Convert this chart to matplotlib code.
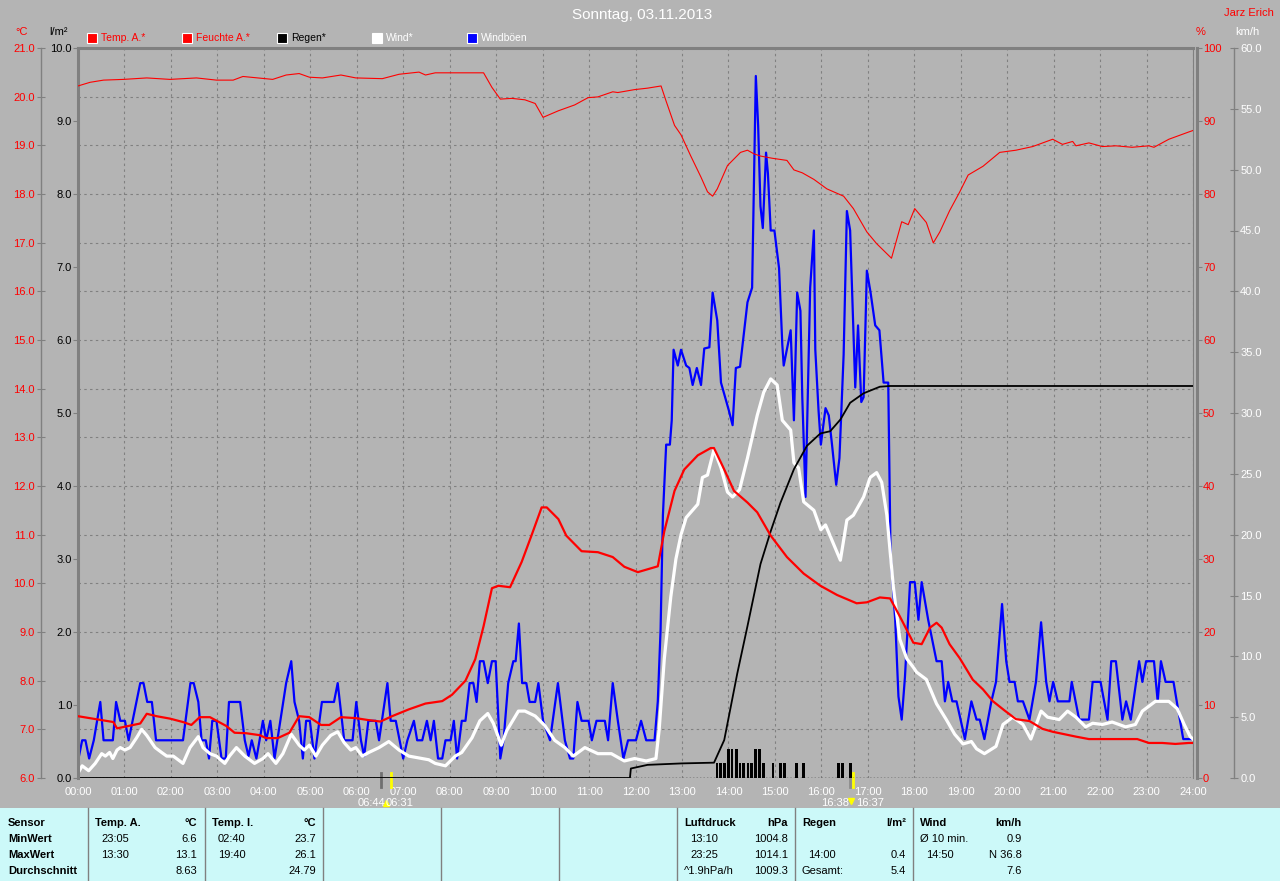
import matplotlib
matplotlib.use("Agg")
import matplotlib.pyplot as plt
import matplotlib.transforms as mtransforms
from matplotlib.patches import Rectangle
from matplotlib.lines import Line2D

plt.rcParams['font.family'] = ['Liberation Sans', 'DejaVu Sans']

# ---- data (time in hours) ----
temp_t = [0.0, 0.76, 0.84, 1.09, 1.34, 1.48, 1.69, 1.98, 2.26, 2.44, 2.62, 2.84, 3.19, 3.37, 3.62,
          3.91, 4.05, 4.30, 4.55, 4.76, 4.98, 5.23, 5.41, 5.66, 5.98, 6.25, 6.51, 6.76, 7.12, 7.48,
          7.84, 8.05, 8.34, 8.55, 8.73, 8.91, 9.05, 9.30, 9.55, 9.76, 9.98, 10.09, 10.34, 10.51,
          10.84, 11.19, 11.51, 11.76, 12.05, 12.48, 12.62, 12.84, 13.05, 13.34, 13.62, 13.69, 13.91,
          14.12, 14.41, 14.62, 14.91, 15.26, 15.62, 15.98, 16.34, 16.76, 16.98, 17.26, 17.48, 17.69,
          17.98, 18.16, 18.34, 18.48, 18.59, 18.76, 18.98, 19.26, 19.48, 19.69, 19.94, 20.19, 20.48,
          20.76, 20.98, 21.48, 21.76, 22.34, 22.80, 23.05, 23.34, 23.62, 23.91, 24.0]
temp_v = [7.27, 7.15, 7.02, 7.07, 7.12, 7.32, 7.27, 7.22, 7.15, 7.09, 7.25, 7.25, 7.07, 6.93, 6.92,
          6.88, 6.82, 6.82, 6.93, 7.27, 7.25, 7.09, 7.09, 7.25, 7.23, 7.19, 7.16, 7.27, 7.41, 7.53,
          7.58, 7.71, 8.0, 8.44, 9.12, 9.90, 9.95, 9.92, 10.44, 10.98, 11.56, 11.56, 11.32, 10.98,
          10.66, 10.64, 10.54, 10.34, 10.23, 10.35, 11.07, 11.90, 12.34, 12.63, 12.78, 12.78, 12.34,
          11.90, 11.66, 11.46, 10.98, 10.54, 10.20, 9.95, 9.76, 9.59, 9.61, 9.71, 9.69, 9.32,
          8.78, 8.75, 9.09, 9.19, 9.09, 8.75, 8.46, 8.02, 7.82, 7.58, 7.39, 7.21, 7.17,
          7.01, 6.95, 6.85, 6.80, 6.80, 6.80, 6.72, 6.72, 6.70, 6.72, 6.72]

hum_t = [0.0, 0.26, 0.55, 0.98, 1.48, 1.98, 2.55, 2.98, 3.34, 3.55, 4.19, 4.48, 4.76, 4.98, 5.26,
         5.66, 5.98, 6.55, 6.91, 7.34, 7.48, 7.69, 8.73, 8.91, 9.09, 9.34, 9.62, 9.84, 10.01, 10.34,
         10.69, 10.98, 11.19, 11.51, 11.62, 11.98, 12.26, 12.55, 12.66, 12.84, 12.98, 13.19, 13.41,
         13.55, 13.66, 13.76, 13.98, 14.26, 14.41, 14.55, 14.69, 14.94, 15.26, 15.41, 15.59, 15.84,
         16.12, 16.48, 16.69, 16.98, 17.19, 17.51, 17.73, 17.87, 18.01, 18.26, 18.41, 18.55, 18.76,
         18.98, 19.16, 19.48, 19.84, 20.19, 20.55, 20.98, 21.19, 21.41, 21.48, 21.76, 22.05, 22.34,
         22.69, 23.05, 23.16, 23.48, 23.91, 24.0]
hum_v = [94.8, 95.3, 95.6, 95.7, 95.9, 95.7, 95.9, 95.6, 95.6, 96.1, 95.7, 96.3, 96.5, 96.0, 95.9,
         96.3, 95.9, 95.8, 96.4, 96.7, 96.3, 96.6, 96.6, 94.6, 93.0, 93.1, 92.9, 92.4, 90.5, 91.4,
         92.2, 93.2, 93.3, 94.0, 93.9, 94.3, 94.5, 94.8, 92.7, 89.4, 88.1, 85.2, 82.3,
         80.3, 79.7, 80.7, 83.9, 85.7, 86.0, 85.5, 85.2, 84.9, 84.6, 83.3, 82.9, 82.0,
         80.7, 79.7, 78.0, 74.8, 73.2, 71.2, 76.2, 75.8, 78.0, 76.1, 73.3, 74.8, 77.7,
         80.3, 82.6, 83.8, 85.7, 86.0, 86.5, 87.5, 86.8, 87.2, 86.6, 87.0, 86.5, 86.6,
         86.4, 86.6, 86.4, 87.5, 88.5, 88.7]

rain_t = [0.0, 11.88, 11.9, 12.26, 13.0, 13.69, 13.91, 14.19, 14.41, 14.69, 14.91, 15.12, 15.41,
          15.69, 15.98, 16.19, 16.41, 16.62, 16.91, 17.26, 17.48, 24.0]
rain_sum = [0.0, 0.0, 0.13, 0.18, 0.2, 0.21, 0.52, 1.43, 2.08, 2.93, 3.38, 3.77, 4.23,
            4.55, 4.72, 4.75, 4.91, 5.14, 5.27, 5.36, 5.37, 5.37]

bar_t = [13.75, 13.83, 13.92, 14.0, 14.08, 14.17, 14.25, 14.33, 14.42, 14.5, 14.58, 14.67, 14.75,
         14.96, 15.12, 15.21, 15.46, 15.62, 16.37, 16.46, 16.63]
bar_v = [0.2, 0.2, 0.2, 0.4, 0.4, 0.4, 0.2, 0.2, 0.2, 0.2, 0.4, 0.4, 0.2,
         0.2, 0.2, 0.2, 0.2, 0.2, 0.2, 0.2, 0.2]

wind_t = [0.0, 0.09, 0.23, 0.37, 0.51, 0.59, 0.68, 0.75, 0.84, 0.91, 1.01, 1.12, 1.26, 1.37, 1.48,
          1.66, 1.80, 1.91, 2.05, 2.26, 2.41, 2.59, 2.69, 2.84, 2.98, 3.16, 3.26, 3.41, 3.59, 3.80,
          3.98, 4.09, 4.26, 4.41, 4.59, 4.76, 4.87, 4.98, 5.12, 5.26, 5.44, 5.59, 5.73, 5.87, 5.98,
          6.12, 6.26, 6.48, 6.69, 6.91, 7.12, 7.41, 7.55, 7.69, 7.91, 8.12, 8.26, 8.48, 8.65, 8.82,
          8.94, 9.11, 9.23, 9.48, 9.62, 9.84, 10.05, 10.26, 10.48, 10.66, 10.91, 11.19, 11.48, 11.76,
          11.98, 12.23, 12.44, 12.51, 12.62, 12.76, 12.87, 12.98, 13.09, 13.34, 13.44, 13.55, 13.69,
          13.84, 13.98, 14.09, 14.24, 14.41, 14.62, 14.76, 14.91, 15.05, 15.16, 15.34, 15.41, 15.51,
          15.62, 15.84, 15.99, 16.09, 16.41, 16.55, 16.69, 16.91, 17.05, 17.19, 17.30, 17.41, 17.55,
          17.69, 17.84, 17.98, 18.05, 18.26, 18.48, 18.69, 18.87, 19.05, 19.23, 19.34, 19.51, 19.76,
          19.91, 20.12, 20.34, 20.51, 20.73, 20.87, 21.12, 21.30, 21.48, 21.69, 21.84, 22.05, 22.26,
          22.55, 22.76, 22.91, 23.19, 23.48, 23.66, 23.81, 23.94, 24.0]
wind_v = [0.4, 1.0, 0.6, 1.2, 2.0, 1.8, 2.1, 1.6, 2.3, 2.5, 2.3, 2.5, 3.3, 4.0, 3.5,
          2.5, 2.1, 1.8, 1.8, 1.2, 2.5, 3.4, 2.5, 2.0, 1.8, 1.2, 1.8, 2.5, 1.8, 1.2,
          1.6, 2.0, 1.2, 2.0, 3.6, 2.7, 2.3, 2.7, 1.8, 2.7, 3.5, 3.8, 2.9, 2.3, 2.5,
          1.8, 2.1, 2.5, 3.0, 2.3, 1.8, 1.6, 1.5, 1.2, 1.0, 1.8, 2.1, 3.3, 4.7, 5.3,
          4.5, 2.7, 3.9, 5.5, 5.5, 5.1, 4.3, 3.1, 2.5, 1.8, 2.5, 2.0, 2.0, 1.4,
          1.6, 1.4, 1.6, 4.0, 9.8, 14.9, 18.0, 20.0, 21.4, 22.5, 24.7, 24.9, 27.0,
          25.5, 23.5, 23.1, 23.7, 26.3, 29.8, 31.7, 32.8, 32.3, 29.4, 28.6, 25.9, 25.5,
          22.7, 22.0, 20.4, 20.8, 17.9, 21.2, 21.6, 23.1, 24.7, 25.1, 24.3, 21.6, 15.7,
          11.4, 9.8, 9.1, 8.7, 8.1, 6.1, 4.8, 3.6, 2.8, 3.0, 2.4, 2.0, 2.6,
          4.4, 5.0, 4.4, 3.2, 5.5, 5.0, 4.8, 5.5, 5.0, 4.2, 4.5, 4.4, 4.6,
          4.2, 4.4, 5.5, 6.3, 6.3, 5.7, 4.4, 3.4, 3.2]

gust_t = [0.0, 0.09, 0.16, 0.24, 0.34, 0.48, 0.55, 0.75, 0.82, 0.91, 1.01, 1.09, 1.34, 1.41, 1.49,
          1.59, 1.68, 2.26, 2.42, 2.49, 2.59, 2.66, 2.75, 2.82, 2.89, 2.98, 3.09, 3.18, 3.25, 3.49,
          3.59, 3.67, 3.74, 3.84, 3.98, 4.05, 4.14, 4.23, 4.48, 4.59, 4.66, 4.76, 4.84, 4.91, 4.99,
          5.09, 5.25, 5.51, 5.59, 5.73, 5.91, 5.99, 6.09, 6.16, 6.25, 6.41, 6.48, 6.66, 6.73, 6.84,
          7.0, 7.09, 7.23, 7.30, 7.41, 7.51, 7.59, 7.66, 7.75, 7.84, 7.91, 8.02, 8.09, 8.16, 8.26,
          8.34, 8.43, 8.51, 8.58, 8.65, 8.73, 8.82, 8.91, 8.99, 9.09, 9.16, 9.26, 9.37, 9.42, 9.49,
          9.56, 9.65, 9.72, 9.84, 9.91, 10.01, 10.16, 10.33, 10.48, 10.59, 10.66, 10.75, 10.84, 10.99,
          11.06, 11.16, 11.34, 11.41, 11.51, 11.62, 11.74, 11.84, 12.01, 12.12, 12.23, 12.41, 12.48,
          12.54, 12.59, 12.66, 12.74, 12.78, 12.82, 12.91, 12.98, 13.09, 13.16, 13.23, 13.32, 13.41,
          13.48, 13.59, 13.66, 13.76, 13.84, 14.01, 14.09, 14.16, 14.25, 14.34, 14.41, 14.51, 14.55,
          14.59, 14.64, 14.69, 14.74, 14.81, 14.85, 14.91, 14.99, 15.09, 15.16, 15.19, 15.34, 15.41,
          15.48, 15.55, 15.59, 15.66, 15.76, 15.84, 15.87, 15.94, 15.99, 16.09, 16.16, 16.23, 16.32,
          16.39, 16.48, 16.55, 16.62, 16.73, 16.79, 16.86, 16.91, 16.98, 17.06, 17.16, 17.25, 17.34,
          17.44, 17.49, 17.59, 17.66, 17.73, 17.80, 17.91, 18.01, 18.09, 18.16, 18.30, 18.48, 18.59,
          18.66, 18.73, 18.82, 18.91, 19.09, 19.23, 19.34, 19.41, 19.51, 19.66, 19.76, 19.89, 19.98,
          20.05, 20.16, 20.23, 20.34, 20.48, 20.62, 20.73, 20.84, 20.91, 20.99, 21.09, 21.34, 21.39,
          21.55, 21.76, 21.84, 22.01, 22.16, 22.24, 22.34, 22.48, 22.56, 22.66, 22.84, 22.91, 22.99,
          23.16, 23.24, 23.31, 23.41, 23.58, 23.65, 23.79, 23.91, 24.0]
gust_v = [1.4, 3.1, 3.1, 1.6, 3.1, 6.25, 3.1, 3.1, 6.25, 4.7, 4.7, 3.1, 7.8, 7.8, 6.25,
          6.25, 3.1, 3.1, 7.8, 7.8, 6.25, 3.1, 3.1, 1.6, 4.7, 4.7, 1.6, 1.6, 6.25, 6.25,
          3.1, 1.8, 3.1, 1.6, 4.7, 3.1, 4.7, 1.6, 7.8, 9.6, 6.25, 4.7, 1.6, 4.7, 4.7,
          1.6, 6.25, 6.25, 7.8, 3.1, 3.1, 6.25, 3.1, 1.8, 4.7, 4.7, 3.1, 7.8, 4.7, 4.7,
          1.6, 3.1, 4.7, 3.1, 3.1, 4.7, 3.1, 4.7, 1.6, 1.6, 3.1, 3.1, 4.7, 1.6, 4.7,
          4.7, 7.8, 7.8, 6.25, 9.6, 9.6, 7.8, 9.6, 9.6, 1.6, 3.1, 7.8, 9.6, 9.6, 12.7,
          7.8, 7.8, 6.25, 6.25, 7.8, 4.7, 3.1, 7.8, 3.1, 1.6, 1.6, 6.25, 4.7, 4.7,
          3.1, 4.7, 4.7, 3.1, 7.8, 4.7, 1.6, 3.1, 3.1, 4.7, 3.1, 3.1, 6.3,
          12.2, 21.6, 27.4, 27.4, 29.4, 35.2, 33.9, 35.2, 33.9, 33.7, 32.3, 33.7, 32.3,
          35.3, 35.4, 39.9, 37.6, 32.5, 30.2, 29.0, 33.7, 33.8, 36.8, 39.1, 40.3, 48.9,
          57.7, 53.6, 47.0, 45.2, 51.4, 49.7, 45.0, 45.0, 41.9, 35.6, 33.9, 36.8, 29.4,
          39.9, 38.4, 31.3, 23.1, 40.3, 45.0, 35.2, 30.2, 27.4, 30.4, 29.8, 27.4, 24.1,
          26.3, 34.8, 46.6, 45.0, 32.1, 37.2, 30.9, 31.3, 41.7, 39.9, 37.2, 36.8, 32.5,
          32.5, 18.4, 13.0, 6.7, 4.8, 8.3, 16.1, 16.1, 13.0, 16.1, 13.0, 9.6, 9.6,
          6.3, 7.9, 6.3, 6.3, 3.2, 6.3, 4.8, 4.8, 3.2, 6.3, 7.9, 14.3, 9.6,
          7.9, 7.9, 6.3, 6.3, 4.8, 7.9, 12.8, 7.9, 6.3, 7.9, 6.3, 6.3, 7.9,
          4.8, 4.8, 7.9, 7.9, 4.8, 9.6, 9.6, 4.8, 6.3, 4.8, 9.6, 7.9, 9.6,
          9.6, 6.3, 9.6, 7.9, 7.9, 6.3, 3.2, 3.2, 3.2]

hours = list(range(0, 25))
temp_ticks = list(range(6, 22))
rain_ticks = list(range(0, 11))
hum_ticks = list(range(0, 101, 10))
wind_ticks = list(range(0, 61, 5))

legend_items = [('Temp. A.*', '#ff0000', '#ff0000'), ('Feuchte A.*', '#ff0000', '#ff0000'),
                ('Regen*', '#000000', '#000000'), ('Wind*', '#ffffff', '#ffffff'),
                ('Windböen', '#0000ff', '#ffffff')]

sensor_rows = ['Sensor', 'MinWert', 'MaxWert', 'Durchschnitt']
table_cols = [
    ('Temp. A.', '°C', [('23:05', '6.6'), ('13:30', '13.1'), ('', '8.63')]),
    ('Temp. I.', '°C', [('02:40', '23.7'), ('19:40', '26.1'), ('', '24.79')]),
    ('Luftdruck', 'hPa', [('13:10', '1004.8'), ('23:25', '1014.1'), ('^1.9hPa/h', '1009.3')]),
    ('Regen', 'l/m²', [('', ''), ('14:00', '0.4'), ('Gesamt:', '5.4')]),
    ('Wind', 'km/h', [('Ø 10 min.', '0.9'), ('14:50', 'N 36.8'), ('', '7.6')]),
]

# sunrise / sunset style markers: (time, colour)
sun_marks = [(6.53, '#707070'), (6.74, '#ffff00'), (16.62, '#8c8c8c'), (16.68, '#ffff00')]
sun_labels = [(6.31, '06:44'), (6.93, '06:31'), (16.29, '16:38'), (17.05, '16:37')]

W, H = 1280, 881
BG = '#b4b4b4'
GRID = '#808080'
CYAN = '#ccf9f9'


def fx(x):
    return x / W


def fy(y):
    return 1 - y / H


fig = plt.figure(figsize=(12.8, 8.81), dpi=100, facecolor=BG)
rect = [fx(78), fy(778), (1193 - 78) / W, (778 - 48) / H]

# temperature scale axis, carries the grid
ax = fig.add_axes(rect)
ax.set_facecolor('none')
ax.set_xlim(0, 24)
ax.set_ylim(6, 21)
ax.set_xticks(hours)
ax.set_xticklabels([f'{h:02d}:00' for h in hours])
ax.set_yticks(temp_ticks)
ax.set_yticklabels([f'{v:.1f}' for v in temp_ticks])
ax.grid(True, color=GRID, linestyle=(0, (2.2, 3)), linewidth=0.8)
ax.tick_params(axis='x', length=0, labelcolor='white', labelsize=8, pad=6.5)
ax.tick_params(axis='y', direction='inout', length=6, color=GRID, labelcolor='#ff0000',
               labelsize=8, pad=1)
ax.spines['left'].set_position(('outward', 27))
ax.spines['left'].set_color(GRID)
ax.spines['left'].set_linewidth(1)
ax.spines['top'].set_color(GRID)
ax.spines['top'].set_linewidth(2.2)
ax.spines['right'].set_color(GRID)
ax.spines['right'].set_linewidth(0.8)
ax.spines['bottom'].set_visible(False)

# wind scale
ax_w = ax.twinx()
ax_w.grid(False)
ax_w.set_ylim(0, 60)
ax_w.set_yticks(wind_ticks)
ax_w.set_yticklabels([f'{v:.1f}' for v in wind_ticks])
ax_w.tick_params(axis='y', direction='inout', length=6, color=GRID, labelcolor='white',
                 labelsize=8, pad=1.5)
for s in ['left', 'top', 'bottom']:
    ax_w.spines[s].set_visible(False)
ax_w.spines['right'].set_position(('outward', 29.5))
ax_w.spines['right'].set_color(GRID)
ax_w.spines['right'].set_linewidth(1)
ax_w.plot(gust_t, gust_v, color='#0000ff', lw=1.6)
ax_w.plot(wind_t, wind_v, color='white', lw=2.3)

# rain scale (left, on the plot edge)
ax_r = ax.twinx()
ax_r.grid(False)
ax_r.yaxis.tick_left()
ax_r.set_ylim(0, 10)
ax_r.set_yticks(rain_ticks)
ax_r.set_yticklabels([f'{v:.1f}' for v in rain_ticks])
ax_r.tick_params(axis='y', direction='out', length=3.6, color=GRID, labelcolor='black',
                 labelsize=8, pad=0.7)
for s in ['right', 'top', 'bottom']:
    ax_r.spines[s].set_visible(False)
ax_r.spines['left'].set_color(GRID)
ax_r.spines['left'].set_linewidth(2.2)
ax_r.axhline(0, color='black', lw=1, ls=(0, (1, 1.5)))
ax_r.bar(bar_t, bar_v, width=0.055, color='black')
ax_r.plot(rain_t, rain_sum, color='black', lw=1.3)

# temperature line
ax_t = ax.twinx()
ax_t.set_ylim(6, 21)
ax_t.axis('off')
ax_t.plot(temp_t, temp_v, color='#ff0000', lw=1.6)

# humidity scale
ax_h = ax.twinx()
ax_h.grid(False)
ax_h.set_ylim(0, 100)
ax_h.set_yticks(hum_ticks)
ax_h.set_yticklabels([str(v) for v in hum_ticks])
ax_h.tick_params(axis='y', direction='out', length=3.6, color=GRID, labelcolor='#ff0000',
                 labelsize=8, pad=0.7)
for s in ['left', 'top', 'bottom']:
    ax_h.spines[s].set_visible(False)
ax_h.spines['right'].set_position(('outward', 2.9))
ax_h.spines['right'].set_color(GRID)
ax_h.spines['right'].set_linewidth(2.2)
ax_h.plot(hum_t, hum_v, color='#ff0000', lw=0.8)

# sunrise / sunset markers below the axis
trans = mtransforms.blended_transform_factory(ax.transData, fig.transFigure)
for t, c in sun_marks:
    ax.add_line(Line2D([t, t], [fy(773), fy(787)], transform=trans, color=c, lw=2,
                       clip_on=False))
for t, s in sun_labels:
    ax.text(t, fy(803), s, transform=trans, color='white', fontsize=8, ha='center',
            va='center')
ax.plot([6.64], [fy(803)], transform=trans, marker='^', color='#ffff00', ms=5, clip_on=False)
ax.plot([16.64], [fy(801)], transform=trans, marker='v', color='#ffff00', ms=5, clip_on=False)

# header texts
fig.text(fx(642), fy(15), 'Sonntag, 03.11.2013', ha='center', va='center', color='white',
         fontsize=11)
fig.text(fx(1249), fy(13), 'Jarz Erich', ha='center', va='center', color='#ff0000', fontsize=8)
fig.text(fx(22), fy(32), '°C', ha='center', va='center', color='#ff0000', fontsize=8)
fig.text(fx(58), fy(32), 'l/m²', ha='center', va='center', color='black', fontsize=8)
fig.text(fx(1201), fy(32), '%', ha='center', va='center', color='#ff0000', fontsize=8)
fig.text(fx(1247), fy(32), 'km/h', ha='center', va='center', color='white', fontsize=8)

# legend
for i, (label, fill, tc) in enumerate(legend_items):
    x0 = 87 + i * 95
    fig.patches.append(Rectangle((fx(x0), fy(43)), 10 / W, 10 / H, transform=fig.transFigure,
                                 facecolor=fill, edgecolor='white', lw=0.8))
    fig.text(fx(x0 + 14), fy(38), label, ha='left', va='center', color=tc, fontsize=7.5)

# statistics table
fig.patches.append(Rectangle((0, 0), 1, fy(808), transform=fig.transFigure,
                             facecolor=CYAN, edgecolor='none'))
for xs in [88, 205, 323, 441, 559, 677, 795, 913]:
    fig.lines.append(Line2D([fx(xs), fx(xs)], [fy(808), 0], transform=fig.transFigure,
                            color=GRID, lw=1))
row_y = [822.7, 839, 855, 871]
for name, yy in zip(sensor_rows, row_y):
    fig.text(fx(8), fy(yy), name, ha='left', va='center', fontsize=8, fontweight='bold')
col_x = [(95, 197), (212, 316), (684, 788), (802, 906), (920, 1022)]
for (xl, xr), (head, unit, rows) in zip(col_x, table_cols):
    fig.text(fx(xl), fy(row_y[0]), head, ha='left', va='center', fontsize=8, fontweight='bold')
    fig.text(fx(xr), fy(row_y[0]), unit, ha='right', va='center', fontsize=8, fontweight='bold')
    for (left, right), yy in zip(rows, row_y[1:]):
        indent = 6 if (len(left) == 5 and left[2] == ':') else 0
        fig.text(fx(xl + indent), fy(yy), left, ha='left', va='center', fontsize=8)
        fig.text(fx(xr), fy(yy), right, ha='right', va='center', fontsize=8)

fig.savefig('out.png', dpi=100, facecolor=BG)
